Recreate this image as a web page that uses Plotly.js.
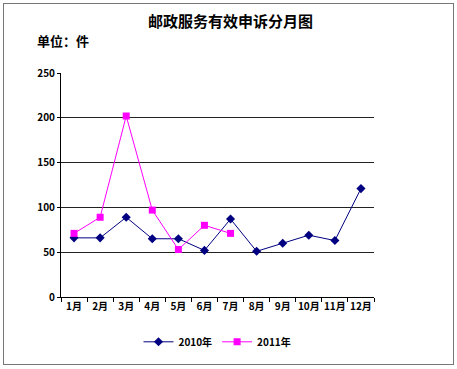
<!DOCTYPE html>
<html><head><meta charset="utf-8">
<script src="https://cdn.plot.ly/plotly-3.0.1.min.js"></script>
<style>
html,body{margin:0;padding:0;background:#fff;}
#frame{position:absolute;left:3px;top:3px;width:449px;height:360px;border:1px solid #777;}
#chart{position:absolute;left:0;top:0;width:457px;height:369px;}
</style></head>
<body><div id="frame"></div><div id="chart"></div>
<script>
const months = ['1月','2月','3月','4月','5月','6月','7月','8月','9月','10月','11月','12月'];
const months2011 = ['1月','2月','3月','4月','5月','6月','7月'];
const values2010 = [66, 66, 89, 65, 65, 52, 87, 51, 60, 69, 63, 121];
const values2011 = [71, 89, 202, 97, 53, 80, 71];
const yTicks = [0, 50, 100, 150, 200, 250];

const fnt = 'SimSun, "Noto Sans CJK SC", sans-serif';
const data = [
  {x: months, y: values2010, name: '2010年', type: 'scatter', mode: 'lines+markers',
   line: {color: '#000080', width: 1}, marker: {symbol: 'diamond', size: 7, color: '#000080'}},
  {x: months2011, y: values2011, name: '2011年', type: 'scatter', mode: 'lines+markers',
   line: {color: '#FF00FF', width: 1}, marker: {symbol: 'square', size: 7, color: '#FF00FF'}}
];
const layout = {
  width: 457, height: 369,
  margin: {l: 61, r: 83, t: 73, b: 72},
  paper_bgcolor: 'rgba(0,0,0,0)', plot_bgcolor: 'rgba(0,0,0,0)',
  font: {family: fnt, size: 10, color: '#000'},
  showlegend: true,
  legend: {orientation: 'h', x: 0.5, xanchor: 'center', y: -0.2, yanchor: 'middle',
    font: {size: 10, weight: 'bold'}, itemwidth: 30, tracegroupgap: 0},
  xaxis: {type: 'category', categoryorder: 'array', categoryarray: months,
    showline: true, linecolor: '#000', linewidth: 1, showgrid: false,
    ticks: 'outside', tickson: 'boundaries', ticklen: 4, tickcolor: '#000', tickangle: 0,
    tickfont: {size: 10, weight: 'bold'}, range: [-0.5, 11.5], zeroline: false},
  yaxis: {range: [0, 250], tickvals: yTicks, showline: true, linecolor: '#000', linewidth: 1,
    showgrid: true, gridcolor: '#222', gridwidth: 1, zeroline: false,
    ticks: 'outside', ticklen: 3, tickcolor: '#000',
    tickfont: {size: 10, weight: 'bold'}},
  annotations: [
    {text: '邮政服务有效申诉分月图', xref: 'paper', yref: 'paper', x: 0.54, y: 1, yshift: 53,
     xanchor: 'center', yanchor: 'middle', showarrow: false, font: {size: 15, weight: 'bold'}},
    {text: '单位：件', xref: 'paper', yref: 'paper', x: 0, xshift: -26, y: 1, yshift: 33,
     xanchor: 'left', yanchor: 'middle', showarrow: false, font: {size: 13, weight: 'bold'}}
  ]
};
Plotly.newPlot('chart', data, layout, {displayModeBar: false, staticPlot: true});
</script></body></html>
